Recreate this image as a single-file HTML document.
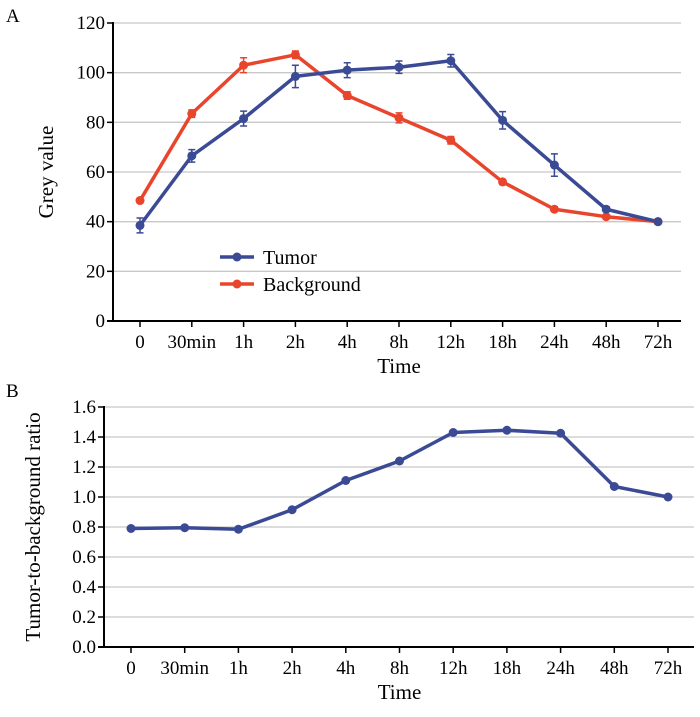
<!DOCTYPE html>
<html><head><meta charset="utf-8"><style>
body{margin:0;background:#fff}
svg{display:block;font-family:"Liberation Serif",serif}
</style></head><body>
<svg width="700" height="717">
<text x="6" y="22" font-size="19">A</text>
<text x="6" y="397" font-size="19">B</text>
<g id="chartA"></g>
<g id="chartB"></g>
</svg>
<script>
const categories=["0","30min","1h","2h","4h","8h","12h","18h","24h","48h","72h"];
const tumorValues=[38.5,66.5,81.5,98.5,101,102.2,104.8,80.8,62.8,45,40];
const tumorErrors=[3,2.5,3,4.5,3,2.5,2.5,3.5,4.5,1,0.5];
const backgroundValues=[48.5,83.5,103,107.2,90.8,81.8,72.8,56,45,42,40];
const backgroundErrors=[1,1.5,3,1.5,1.5,2,1.5,1,1,0.5,1];
const aTicks=[0,20,40,60,80,100,120];
const ratioValues=[0.79,0.795,0.785,0.915,1.11,1.24,1.43,1.445,1.425,1.07,1.0];
const bTicks=["0.0","0.2","0.4","0.6","0.8","1.0","1.2","1.4","1.6"];
const NS="http://www.w3.org/2000/svg";
const BLUE="#3a4a94",RED="#e8452c";
function mk(p,t,a){const e=document.createElementNS(NS,t);for(const k in a)e.setAttribute(k,a[k]);p.appendChild(e);return e;}
function chart(g,o){
  const xs=i=>o.x0+i*(o.x1-o.x0)/(categories.length-1);
  const ys=v=>o.yb-(v-o.min)/(o.max-o.min)*(o.yb-o.yt);
  o.ticks.forEach(t=>{const v=+t,y=ys(v);
    if(v>o.min){const l=mk(g,"line",{x1:o.ax,x2:o.right,y1:y,y2:y,stroke:"#c8c8c8","stroke-width":1.3});
    
    }
    const tk=mk(g,"line",{x1:o.ax-6,x2:o.ax,y1:y,y2:y,stroke:"#000","stroke-width":1.5});
    
    
    const tx=mk(g,"text",{x:o.ax-8,y:y+6,"font-size":19,"text-anchor":"end"});tx.textContent=t;
    
    });
  const ay=mk(g,"line",{x1:o.ax,x2:o.ax,y1:o.yt-1,y2:o.yb+1,stroke:"#000","stroke-width":2});
  
  
  const ax=mk(g,"line",{x1:o.ax-6,x2:o.right,y1:o.yb,y2:o.yb,stroke:"#000","stroke-width":2});
  
  
  categories.forEach((c,i)=>{const x=xs(i);
    const tk=mk(g,"line",{x1:x,x2:x,y1:o.yb,y2:o.yb+6,stroke:"#000","stroke-width":1.5});
    
    
    const tx=mk(g,"text",{x:x,y:o.yb+27,"font-size":19,"text-anchor":"middle"});tx.textContent=c;
    
    });
  const xt=mk(g,"text",{x:(o.x0+o.x1)/2,y:o.yb+52,"font-size":21,"text-anchor":"middle"});xt.textContent="Time";
  
  
  const yt=mk(g,"text",{x:0,y:0,"font-size":21,"text-anchor":"middle",transform:`translate(${o.ytx},${(o.yt+o.yb)/2}) rotate(-90)`});yt.textContent=o.ytitle;
  
  
  o.series.forEach(s=>{
    const pts=s.vals.map((v,i)=>xs(i)+","+ys(v)).join(" ");
    const pl=mk(g,"polyline",{points:pts,fill:"none",stroke:s.color,"stroke-width":3.5,"stroke-linejoin":"round"});
    
    
    s.vals.forEach((v,i)=>{const x=xs(i);
      if(s.err){const e=s.err[i],y1=ys(v+e),y2=ys(v-e);
        const eb=mk(g,"path",{d:`M${x},${y1}V${y2}M${x-3.5},${y1}H${x+3.5}M${x-3.5},${y2}H${x+3.5}`,stroke:s.color,"stroke-width":1.5,fill:"none"});
        
        }
      const c=mk(g,"circle",{cx:x,cy:ys(v),r:4.5,fill:s.color});
      
      });
  });
}
const gA=document.getElementById("chartA"),gB=document.getElementById("chartB");
chart(gA,{x0:140,x1:658,ax:113,right:681,yt:23,yb:321,min:0,max:120,ticks:aTicks.map(String),ytx:53,ytitle:"Grey value",
  series:[{vals:backgroundValues,err:backgroundErrors,color:RED,name:"background"},{vals:tumorValues,err:tumorErrors,color:BLUE,name:"tumor"}]});
chart(gB,{x0:131,x1:668,ax:104,right:694,yt:407,yb:647,min:0,max:1.6,ticks:bTicks,ytx:40,ytitle:"Tumor-to-background ratio",
  series:[{vals:ratioValues,color:BLUE,name:"ratio"}]});
[["Tumor",BLUE,257],["Background",RED,284]].forEach(([t,c,y])=>{
  const l=mk(gA,"line",{x1:220,x2:254,y1:y,y2:y,stroke:c,"stroke-width":3.5});
  
  
  const d=mk(gA,"circle",{cx:237,cy:y,r:4.5,fill:c});
  
  
  const tx=mk(gA,"text",{x:263,y:y+7,"font-size":20});tx.textContent=t;
  
  
});
</script>
</body></html>
